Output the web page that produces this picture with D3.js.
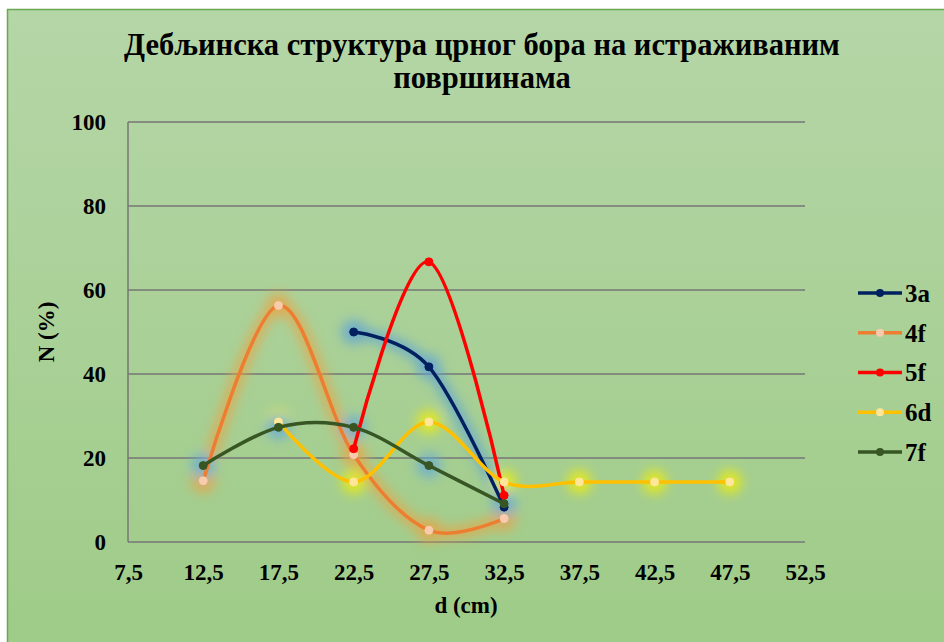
<!DOCTYPE html>
<html>
<head>
<meta charset="utf-8">
<script src="https://cdn.jsdelivr.net/npm/d3@7"></script>
<style>
    body { margin: 0; background: #fff; }
</style>
</head>
<body>
<svg id="chart" width="944" height="642"></svg>
<script>
// d (cm) класе
const xTicks = [7.5, 12.5, 17.5, 22.5, 27.5, 32.5, 37.5, 42.5, 47.5, 52.5];
const yTicks = [0, 20, 40, 60, 80, 100];

const seriesNames = ["3a", "4f", "5f", "6d", "7f"];
const xs3a = [22.5, 27.5, 32.5];
const ys3a = [50.0, 41.7, 8.3];
const xs4f = [12.5, 17.5, 22.5, 27.5, 32.5];
const ys4f = [14.6, 56.3, 20.8, 2.8, 5.6];
const xs5f = [22.5, 27.5, 32.5];
const ys5f = [22.2, 66.7, 11.1];
const xs6d = [17.5, 22.5, 27.5, 32.5, 37.5, 42.5, 47.5];
const ys6d = [28.6, 14.3, 28.6, 14.3, 14.3, 14.3, 14.3];
const xs7f = [12.5, 17.5, 22.5, 27.5, 32.5];
const ys7f = [18.2, 27.3, 27.3, 18.2, 9.1];

const titleLines = ["Дебљинска структура црног бора на истраживаним", "површинама"];

const FONT = "'Liberation Serif', 'Times New Roman', serif";

class SmoothScatter {
    constructor (element, configs) {
        this.svg = d3.select(element);
        this.defaultConfig = {
            margin: {top: 122, right: 139, bottom: 100, left: 128},
            width: 944,
            height: 642
        };
        this.config = Object.assign({}, this.defaultConfig, configs);
        this.initParams();
        this.drawBackground();
        this.drawAxis();
        this.drawLines();
        this.drawLegend();
        this.drawTexts();
        this.svg.selectAll("text")
            .style("font-family", FONT)
            .style("font-weight", "bold")
            .style("fill", "#000");
    }

    initParams () {
        const m = this.config.margin;
        this.w = this.config.width - m.left - m.right;
        this.h = this.config.height - m.top - m.bottom;
        this.x = d3.scaleLinear().domain([7.5, 52.5]).range([0, this.w]);
        this.y = d3.scaleLinear().domain([0, 100]).range([this.h, 0]);
        this.series = [
            {name: "3a", xs: xs3a, ys: ys3a, color: "#002060", marker: "#002060", glow: "#5aa0dc", glowLine: true},
            {name: "4f", xs: xs4f, ys: ys4f, color: "#ED7D31", marker: "#F8CBAD", glow: "#f0a040", glowLine: true},
            {name: "5f", xs: xs5f, ys: ys5f, color: "#FF0000", marker: "#FF0000", glow: null, glowLine: false},
            {name: "6d", xs: xs6d, ys: ys6d, color: "#FFC000", marker: "#FFE699", glow: "#f5f000", glowLine: false},
            {name: "7f", xs: xs7f, ys: ys7f, color: "#375623", marker: "#375623", glow: "#64a8dc", glowLine: false}
        ];
    }

    drawBackground () {
        const defs = this.svg.append("defs");
        const grad = defs.append("linearGradient")
            .attr("id", "bg").attr("x1", 0).attr("y1", 0).attr("x2", 0).attr("y2", 1);
        grad.append("stop").attr("offset", "0%").attr("stop-color", "#B5D6A7");
        grad.append("stop").attr("offset", "100%").attr("stop-color", "#9ECB87");

        defs.append("filter").attr("id", "glow")
            .attr("x", "-20%").attr("y", "-20%").attr("width", "140%").attr("height", "140%")
            .append("feGaussianBlur").attr("stdDeviation", 6);

        this.svg.append("rect")
            .attr("x", 7.5).attr("y", 9.5)
            .attr("width", 950).attr("height", 650)
            .attr("fill", "url(#bg)")
            .attr("stroke", "#6AA84F")
            .attr("stroke-width", 1.5);
    }

    drawAxis () {
        const m = this.config.margin;
        this.main = this.svg.append("g")
            .attr("transform", "translate(" + m.left + "," + m.top + ")");

        this.main.append("g")
            .attr("class", "grid")
            .selectAll("line")
            .data(yTicks)
            .enter()
            .append("line")
            .attr("x1", 0).attr("x2", this.w)
            .attr("y1", d => this.y(d)).attr("y2", d => this.y(d))
            .attr("stroke", "#767676")
            .attr("stroke-width", 1.5);

        this.main.append("line")
            .attr("x1", 0).attr("x2", 0)
            .attr("y1", 0).attr("y2", this.h)
            .attr("stroke", "#767676")
            .attr("stroke-width", 1.5);

        const yAxis = this.main.append("g")
            .call(d3.axisLeft(this.y).tickValues(yTicks).tickSize(0).tickPadding(22));
        yAxis.select(".domain").remove();
        yAxis.selectAll("text").attr("font-size", 23);

        const xAxis = this.main.append("g")
            .attr("transform", "translate(0," + this.h + ")")
            .call(d3.axisBottom(this.x).tickValues(xTicks).tickSize(0).tickPadding(22)
                .tickFormat(d => String(d).replace(".", ",")));
        xAxis.select(".domain").remove();
        xAxis.selectAll("text").attr("font-size", 23);
    }

    drawLines () {
        const line = d3.line()
            .x(d => this.x(d[0]))
            .y(d => this.y(d[1]))
            .curve(d3.curveCatmullRom.alpha(0));

        const glowG = this.main.append("g").attr("filter", "url(#glow)").attr("opacity", 0.75);
        const lineG = this.main.append("g");

        this.series.forEach(s => {
            const pts = s.xs.map((v, i) => [v, s.ys[i]]);
            if (s.glow) {
                if (s.glowLine) {
                    glowG.append("path")
                        .attr("d", line(pts))
                        .attr("fill", "none")
                        .attr("stroke", s.glow)
                        .attr("stroke-width", 11);
                }
                glowG.selectAll(null)
                    .data(pts)
                    .enter()
                    .append("circle")
                    .attr("cx", d => this.x(d[0]))
                    .attr("cy", d => this.y(d[1]))
                    .attr("r", 12)
                    .attr("fill", s.glow);
            }
        });

        this.series.forEach(s => {
            const pts = s.xs.map((v, i) => [v, s.ys[i]]);
            const g = lineG.append("g").attr("class", "series s" + s.name);
            g.append("path")
                .attr("d", line(pts))
                .attr("fill", "none")
                .attr("stroke", s.color)
                .attr("stroke-width", 3.5)
                .attr("stroke-linecap", "round");
            g.selectAll("circle")
                .data(pts)
                .enter()
                .append("circle")
                .attr("cx", d => this.x(d[0]))
                .attr("cy", d => this.y(d[1]))
                .attr("r", 4)
                .attr("fill", s.marker)
                .attr("stroke", s.marker);
        });
    }

    drawLegend () {
        const legendY = d3.scalePoint().domain(seriesNames).range([293, 452]);
        const items = this.svg.append("g")
            .selectAll("g")
            .data(this.series)
            .enter()
            .append("g")
            .attr("transform", d => "translate(858," + legendY(d.name) + ")");

        items.append("line")
            .attr("x1", 0).attr("x2", 44)
            .attr("stroke", d => d.color)
            .attr("stroke-width", 3.5);
        items.append("circle")
            .attr("cx", 22).attr("r", 4)
            .attr("fill", d => d.marker);
        items.append("text")
            .attr("x", 47)
            .attr("dy", "0.35em")
            .attr("font-size", 25)
            .text(d => d.name);
    }

    drawTexts () {
        this.svg.append("g")
            .selectAll("text")
            .data(titleLines)
            .enter()
            .append("text")
            .attr("x", 482)
            .attr("y", (d, i) => 55 + i * 33)
            .attr("text-anchor", "middle")
            .attr("font-size", 30.5)
            .text(d => d);

        this.svg.append("text")
            .attr("x", 466)
            .attr("y", 613)
            .attr("text-anchor", "middle")
            .attr("font-size", 23)
            .text("d (cm)");

        this.svg.append("text")
            .attr("transform", "translate(54,332) rotate(-90)")
            .attr("text-anchor", "middle")
            .attr("font-size", 23)
            .text("N (%)");
    }
}

new SmoothScatter("#chart");
</script>
</body>
</html>
